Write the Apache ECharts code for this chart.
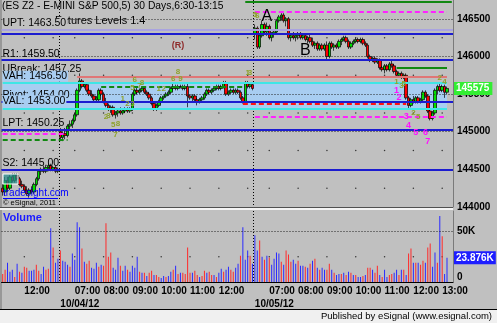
<!DOCTYPE html>
<html><head><meta charset="utf-8">
<script src="https://cdn.jsdelivr.net/npm/echarts@6/dist/echarts.min.js"></script>
<style>html,body{margin:0;padding:0;background:#c0c0c0;overflow:hidden}#c{width:497px;height:323px}</style>
</head><body><div id="c"></div>
<script>
// ---------------- DATA ----------------
const titleText = '(ES Z2 - E-MINI S&P 500,5) 30 Days,6:30-13:15';
const studyText = 'Futures Levels 1.4';
const dayLabels = ['10/03/12', '10/04/12', '10/05/12'];
const dayFirstBar = [57, 0, 0];          // first 5-min bar number shown for each day (session 06:30)
const sessionStartMin = 6 * 60 + 30;
const barMinutes = 5;

// [open, high, low, close]
const day1Bars = [
  [144250,144300,144150,144200],[144200,144400,144150,144350],[144350,144400,144200,144250],[144250,144425,144225,144400],
  [144400,144450,144325,144350],[144350,144450,144325,144425],[144425,144450,144350,144375],[144375,144400,144275,144300],
  [144300,144350,144250,144275],[144275,144300,144200,144225],[144225,144275,144150,144175],[144175,144250,144125,144225],
  [144225,144275,144175,144200],[144200,144325,144175,144300],[144300,144400,144275,144375],[144375,144500,144350,144475],
  [144475,144525,144425,144500],[144500,144550,144450,144475],[144475,144550,144450,144525],[144525,144575,144475,144550],
  [144550,144575,144475,144500],[144500,144550,144475,144525],[144525,144550,144450,144475],[144475,144525,144450,144500]
];
const day2Bars = [
  [145000,145050,144875,144925],[144925,145000,144875,144975],[144975,145050,144900,144950],[144950,145100,144925,145075],
  [145075,145150,145025,145100],[145100,145175,145050,145150],[145150,145250,145125,145225],[145225,145575,145200,145550],
  [145550,145775,145525,145675],[145675,145700,145575,145600],[145600,145650,145575,145625],[145625,145650,145525,145550],
  [145550,145575,145475,145500],[145500,145550,145450,145475],[145475,145500,145400,145425],[145425,145475,145400,145450],
  [145425,145575,145400,145550],[145550,145575,145475,145500],[145500,145525,145375,145400],[145400,145450,145325,145350],
  [145350,145375,145275,145300],[145300,145350,145250,145325],[145325,145350,145200,145225],[145225,145275,145175,145250],
  [145250,145300,145200,145275],[145275,145325,145225,145250],[145250,145300,145225,145275],[145275,145325,145250,145300],
  [145300,145325,145250,145275],[145275,145325,145250,145300],[145300,145525,145275,145500],[145500,145575,145475,145550],
  [145550,145600,145500,145525],[145525,145575,145500,145550],[145550,145600,145525,145575],[145575,145600,145500,145525],
  [145525,145550,145475,145500],[145500,145525,145425,145450],[145450,145475,145350,145375],[145375,145400,145275,145300],
  [145300,145375,145275,145350],[145350,145425,145325,145400],[145400,145475,145375,145450],[145450,145475,145425,145475],
  [145475,145525,145450,145500],[145500,145550,145475,145525],[145525,145600,145500,145575],[145575,145650,145550,145600],
  [145600,145625,145550,145575],[145575,145625,145550,145600],[145600,145625,145575,145600],[145600,145625,145550,145575],
  [145575,145625,145550,145600],[145600,145650,145325,145475],[145475,145500,145425,145450],[145450,145500,145400,145475],
  [145475,145500,145400,145425],[145425,145450,145350,145400],[145400,145450,145375,145425],[145425,145475,145400,145450],
  [145450,145525,145425,145500],[145500,145575,145475,145550],[145550,145575,145500,145525],[145525,145575,145500,145550],
  [145550,145600,145525,145575],[145575,145625,145550,145600],[145600,145625,145550,145575],[145575,145625,145550,145600],
  [145600,145675,145575,145650],[145650,145675,145475,145500],[145500,145550,145475,145525],[145525,145575,145500,145550],
  [145550,145575,145500,145525],[145525,145575,145500,145550],[145550,145575,145500,145525],[145525,145550,145425,145450],
  [145450,145475,145375,145400],[145400,145675,145375,145650],[145650,145675,145575,145600],[145600,145650,145575,145625],
  [145625,145650,145550,145575]
];
const day3Bars = [
  [146300,146425,146225,146375],[146375,146400,146100,146125],[146125,146300,146100,146275],[146275,146475,146250,146425],
  [146425,146450,146300,146325],[146325,146450,146275,146400],[146400,146425,146225,146250],[146250,146325,146200,146300],
  [146300,146350,146250,146325],[146325,146500,146300,146475],[146475,146550,146450,146525],[146525,146575,146475,146550],
  [146550,146575,146450,146475],[146475,146525,146400,146500],[146500,146525,146225,146250],[146250,146300,146200,146275],
  [146275,146325,146225,146250],[146250,146300,146200,146275],[146275,146325,146225,146300],[146300,146325,146225,146250],
  [146250,146300,146225,146275],[146275,146300,146200,146225],[146225,146275,146175,146250],[146250,146300,146175,146200],
  [146200,146250,146125,146150],[146150,146200,146100,146175],[146175,146200,146075,146100],[146100,146175,146075,146150],
  [146150,146175,146075,146100],[146100,146175,146075,146150],[146150,146200,145950,146000],[146000,146200,145975,146175],
  [146175,146200,146100,146125],[146125,146175,146075,146150],[146150,146175,146100,146125],[146125,146225,146100,146200],
  [146200,146250,146150,146225],[146225,146275,146200,146250],[146250,146275,146175,146200],[146200,146225,146100,146125],
  [146125,146200,146100,146175],[146175,146225,146150,146200],[146200,146250,146175,146225],[146225,146250,146175,146200],
  [146200,146250,146175,146225],[146225,146250,146150,146175],[146175,146200,146125,146150],[146150,146175,145975,146000],
  [146000,146025,145925,145950],[145950,146000,145925,145975],[145975,146000,145900,145925],[145925,145975,145900,145950],
  [145950,145975,145825,145850],[145850,145875,145800,145825],[145825,145900,145775,145875],[145875,145900,145800,145825],
  [145825,145925,145800,145900],[145900,145950,145850,145875],[145875,145900,145775,145800],[145800,145825,145725,145750],
  [145750,145800,145725,145775],[145775,145800,145700,145725],[145725,145775,145700,145750],[145750,145775,145425,145450],
  [145450,145475,145300,145350],[145350,145450,145325,145425],[145425,145475,145375,145400],[145400,145475,145375,145450],
  [145450,145475,145375,145400],[145400,145450,145375,145425],[145425,145550,145400,145525],[145525,145550,145450,145475],
  [145475,145500,145250,145275],[145275,145300,145150,145175],[145175,145275,145150,145250],[145250,145575,145225,145550],
  [145550,145625,145500,145600],[145600,145650,145525,145550],[145550,145625,145525,145600],[145600,145625,145450,145525],
  [145525,145600,145500,145575]
];

// volume in thousands, and bar colour flag (b = blue, r = red)
const day1Vol = [8,12,19,10,12,5,18,10,9,15,14,11,11,12,17,11,8,15,12,13,53,34,19,23];
const day1VolDir = 'rrbbbrbrbrrbbbrrbbrrbrbb';
const day2Vol = [31,21,20,17,15,28,22,59,54,33, 20,18,21,14,13,19,15,17,16,58, 25,29,14,12,24,16,11,16,12,10,
  16,14,25,10,9,9,6,9,11,7, 7,5,4,6,5,6,10,12,16,8, 9,9,8,34,9,9,11,7,5,6, 11,9,10,7,7,5,9,13,10,12,
  15,12,10,14,18,26,54,22,31,26, 18];
const day2VolDir = 'rbbbrbbbbr' + 'brrbbbrbrr' + 'rrbbbrbbrb' + 'bbbrbrbrrb' + 'rrbbrbbrbr' + 'brrrrbrrbr' + 'rbrrbrbbrb' + 'brrbbrbbbr' + 'b';
const day3Vol = [46,31,41,25,22,26,24,17,23,29, 28,20,17,31,27,20,22,18,21,16, 16,15,14,18,21,23,14,12,14,12,
  12,18,12,9,7,8,8,9,7,10, 9,7,7,5,5,6,7,14,14,12, 9,16,7,5,12,5,7,8,9,12, 7,12,12,7,28,33,19,19,19,17,
  21,19,34,38,15,29,19,65,45,8, 23.876];
const day3VolDir = 'bbrbrbrbbb' + 'brbrrrbbrb' + 'brbrbrbrbb' + 'rrbrbbrbrb' + 'rbrbbrbrrb' + 'rrbrbbrrbb' + 'rbrbrrbrbr' + 'rbrrbbrbrb' + 'b';

const hourTickLabels = ['10/03/12 12:00','10/04/12 07:00','10/04/12 08:00','10/04/12 09:00','10/04/12 10:00','10/04/12 11:00',
  '10/04/12 12:00','10/05/12 07:00','10/05/12 08:00','10/05/12 09:00','10/05/12 10:00','10/05/12 11:00','10/05/12 12:00','10/05/12 13:00'];
const priceTicks = [144000, 144500, 145000, 145500, 146000, 146500];
const priceMinorTicks = [144250, 144750, 145250, 145750, 146250];
const volumeTicks = [0, 50];
const volumeMinorTicks = [25];

// levels from the "Futures Levels" study (price x100)
const levelNames  = ['UPT', 'R1', 'UBreak', 'VAH', 'Pivot', 'VAL', 'LPT', 'S2'];
const levelValues = [146350, 145950, 145725, 145650, 145400, 145300, 145025, 144500];
const fullLineValues = [146350, 146300, 145950, 145400, 145025, 144500];
const fullLineKind   = ['lavender', 'blue', 'blue', 'blue', 'blue', 'blue'];
const segValues = [146725, 146600, 145725, 145650, 145300, 145600, 145850, 145375, 145200, 144975, 144900];
const segFrom   = [101, 105, 31, 0, 0, 41, 164, 100, 105, 0, 0];
const segTo     = [187, 185, 185, 185, 185, 101, 185, 168, 185, 26, 27];
const segKind   = ['greenSolid','magentaDash','salmon','cyan','cyan','greenDash','greenSolid','redDash','magentaDash','magentaDash','greenDash'];
const valueAreaHigh = 145650, valueAreaLow = 145300, valueAreaFrom = 0, valueAreaTo = 185;

// chart annotations [bar index, price, text]
const waveLabels = [[110, 146524, 'A'], [126, 146072, 'B']];
const reversalLabels = [[73, 146139, '(R)']];
const countLabels = [[164,145554,'1'],[165,145461,'2'],[168,145196,'3'],[169,145089,'4'],[172,144983,'5'],[176,144983,'6'],[177,144864,'7']];
const tdLabels = [[73,145793,'8'],[71,145700,'6'],[74,145700,'9'],[55,145687,'6'],[58,145647,'8'],[54,145581,'5'],[57,145607,'7'],
  [65,145568,'1'],[67,145568,'2'],[50,145435,'1'],[52,145368,'2'],[54,145368,'3'],[43,145196,'2'],[44,145209,'3'],[46,145089,'5'],
  [48,145103,'8'],[47,144957,'7'],[102,145780,'1'],[103,145780,'3'],[105,146551,'5'],[106,146537,'6'],[164,145661,'1'],
  [166,145607,'3'],[167,145634,'5'],[171,145249,'2'],[173,145196,'5'],[182,145714,'2'],[184,145661,'4']];

// ---------------- BUILD ----------------
const FONT = '"Liberation Sans", Arial, sans-serif';
const VOL_BLUE = '#2a2aff', VOL_RED = '#ff2a2a';
const categories = [], candles = [], volumes = [], dayStarts = [];
const daysBars = [day1Bars, day2Bars, day3Bars], daysVol = [day1Vol, day2Vol, day3Vol], daysDir = [day1VolDir, day2VolDir, day3VolDir];
daysBars.forEach((bars, d) => {
  dayStarts.push(categories.length);
  bars.forEach((b, j) => {
    const m = sessionStartMin + (dayFirstBar[d] + j) * barMinutes;
    const t = String(Math.floor(m / 60)).padStart(2, '0') + ':' + String(m % 60).padStart(2, '0');
    categories.push(dayLabels[d] + ' ' + t);
    candles.push([b[0], b[3], b[2], b[1]]);
    volumes.push({ value: daysVol[d][j], itemStyle: { color: daysDir[d][j] === 'b' ? VOL_BLUE : VOL_RED } });
  });
});
categories.push('pad1', 'pad2');
const dayLineIdx = dayStarts.slice(1);
const hourIdx = [];
categories.forEach((c, i) => { if (/:00$/.test(c)) hourIdx.push(i); });
const priceDots = [], volDots = [];
hourIdx.forEach(i => { priceMinorTicks.forEach(p => priceDots.push([i, p])); volumeMinorTicks.forEach(v => volDots.push([i, v])); });

const styles = {
  lavender: { color: '#a9a3e0', width: 2, type: 'solid' },
  blue: { color: '#1c1cd0', width: 2, type: 'solid' },
  greenSolid: { color: '#118811', width: 2, type: 'solid' },
  magentaDash: { color: '#ff22ff', width: 2, type: [5, 3] },
  salmon: { color: '#e07676', width: 2, type: 'solid' },
  cyan: { color: '#3fe6e6', width: 2, type: 'solid' },
  greenDash: { color: '#118811', width: 2, type: [5, 3] },
  redDash: { color: '#ff1111', width: 2, type: [5, 3] }
};
const HIDDEN_LINE = { color: 'rgba(0,0,0,0)', width: 0.01, type: 'solid' };
const VA_FILL = '#a8cdf1';
const labelBg = { UPT: '#c0c0c0', VAH: VA_FILL, Pivot: VA_FILL, VAL: VA_FILL };
const labelGap = { UBreak: 3, VAL: 3 };

const levelLines = [];
priceTicks.slice(1).forEach(v => levelLines.push({ yAxis: v, lineStyle: { color: '#222', width: 1, type: [1, 2] }, label: { show: false } }));
fullLineValues.forEach((v, i) => levelLines.push({ yAxis: v, lineStyle: styles[fullLineKind[i]], label: { show: false } }));
segValues.forEach((v, i) => levelLines.push([{ coord: [segFrom[i], v], lineStyle: styles[segKind[i]], label: { show: false } }, { coord: [segTo[i], v] }]));
levelNames.forEach((n, i) => levelLines.push({
  yAxis: levelValues[i], lineStyle: HIDDEN_LINE,
  label: { show: true, position: 'insideStartTop', distance: [1, labelGap[n] || 1],
    formatter: n + ': ' + (levelValues[i] / 100).toFixed(2), color: '#000', fontSize: 10.5, fontFamily: FONT,
    lineHeight: 11, padding: [0, 1, 0, 0], backgroundColor: labelBg[n] || 'transparent' }
}));

function textPoints(list, style) {
  return list.map(a => ({ coord: [a[0], a[1]], value: a[2], label: Object.assign({ show: true, position: 'inside', formatter: a[2], fontFamily: FONT }, style) }));
}
const annotationPoints = [].concat(
  textPoints(tdLabels, { color: '#8ea22c', fontSize: 8, fontWeight: 'bold' }),
  textPoints(countLabels, { color: '#ff10ff', fontSize: 9, fontWeight: 'bold' }),
  textPoints(reversalLabels, { color: '#8e2a2a', fontSize: 9, fontWeight: 'bold' }),
  textPoints(waveLabels, { color: '#000', fontSize: 16 })
);

const lastClose = candles[candles.length - 1][1];
const lastVol = volumes[volumes.length - 1].value;

const chart = echarts.init(document.getElementById('c'), null, { renderer: 'canvas', width: 497, height: 323 });
const axisLblBold = { color: '#000', fontSize: 10, fontWeight: 'bold', fontFamily: FONT };
chart.setOption({
  animation: false,
  backgroundColor: '#c0c0c0',
  textStyle: { fontFamily: FONT },
  grid: [
    { left: 1.5, right: 44, top: 0, height: 207 },
    { left: 1.5, right: 44, top: 211, height: 71 }
  ],
  xAxis: [
    { type: 'category', gridIndex: 0, data: categories, axisLine: { show: false }, axisTick: { show: false }, axisLabel: { show: false },
      splitLine: { show: true, interval: (i) => dayLineIdx.includes(i), lineStyle: { color: '#000', width: 1, type: [1, 2] } } },
    { type: 'category', gridIndex: 1, data: categories, axisLine: { show: true, lineStyle: { color: '#000', width: 1 } }, axisTick: { show: false },
      axisLabel: Object.assign({ interval: (i, v) => hourTickLabels.includes(v), formatter: v => v.split(' ')[1], align: 'left', margin: 4 }, axisLblBold),
      splitLine: { show: true, interval: (i) => dayLineIdx.includes(i), lineStyle: { color: '#000', width: 1, type: [1, 2] } } },
    { type: 'category', gridIndex: 1, data: categories, position: 'bottom', offset: 13, axisLine: { show: false }, axisTick: { show: false },
      axisLabel: Object.assign({ interval: (i) => dayLineIdx.includes(i), formatter: v => v.split(' ')[0], align: 'left', margin: 4 }, axisLblBold),
      splitLine: { show: false } }
  ],
  yAxis: [
    { type: 'value', gridIndex: 0, position: 'right', min: priceTicks[0], max: 146750, interval: 500, splitLine: { show: false },
      axisLine: { show: true, lineStyle: { color: '#7a7a7a' } }, axisTick: { show: false },
      axisLabel: Object.assign({ margin: 4, formatter: v => priceTicks.includes(v) ? String(v) : '' }, axisLblBold) },
    { type: 'value', gridIndex: 1, position: 'right', min: volumeTicks[0], max: 70, interval: 50, splitLine: { show: false },
      axisLine: { show: true, lineStyle: { color: '#7a7a7a' } }, axisTick: { show: false },
      axisLabel: Object.assign({ margin: 4, verticalAlignMinLabel: 'bottom', formatter: v => v === 0 ? '0' : (volumeTicks.includes(v) ? v + 'K' : '') }, axisLblBold) }
  ],
  series: [
    { name: 'dots', type: 'scatter', xAxisIndex: 0, yAxisIndex: 0, data: priceDots, symbolSize: 1.5, itemStyle: { color: '#111' }, silent: true, z: 1 },
    { name: 'levels', type: 'line', xAxisIndex: 0, yAxisIndex: 0, data: [], silent: true, z: 1,
      markArea: { silent: true, itemStyle: { color: VA_FILL, opacity: 1 }, data: [[{ coord: [valueAreaFrom, valueAreaHigh] }, { coord: [valueAreaTo, valueAreaLow] }]] },
      markLine: { silent: true, symbol: ['none', 'none'], animation: false, data: levelLines } },
    { name: 'ES Z2', type: 'candlestick', xAxisIndex: 0, yAxisIndex: 0, data: candles, barWidth: 3, z: 3,
      itemStyle: { color: '#00e000', color0: '#ff0000', borderColor: '#000', borderColor0: '#000', borderWidth: 0.7 },
      markLine: { silent: true, symbol: ['none', 'none'], data: [{ yAxis: lastClose, lineStyle: HIDDEN_LINE,
        label: { show: true, position: 'end', distance: 1, formatter: String(lastClose), color: '#fff', backgroundColor: '#33ee33',
          fontSize: 10, fontWeight: 'bold', fontFamily: FONT, padding: [2, 3, 1, 2] } }] } },
    { name: 'notes', type: 'scatter', xAxisIndex: 0, yAxisIndex: 0, data: [], silent: true, z: 4,
      markPoint: { silent: true, symbol: 'rect', symbolSize: 1, itemStyle: { color: 'rgba(0,0,0,0)' }, data: annotationPoints } },
    { name: 'vdots', type: 'scatter', xAxisIndex: 1, yAxisIndex: 1, data: volDots, symbolSize: 1.5, itemStyle: { color: '#111' }, silent: true, z: 1 },
    { name: 'Volume', type: 'bar', xAxisIndex: 1, yAxisIndex: 1, data: volumes, barWidth: 1, z: 3,
      markLine: { silent: true, symbol: ['none', 'none'], data: [
        { yAxis: volumeTicks[1], lineStyle: { color: '#222', width: 1, type: [1, 2] }, label: { show: false } },
        { yAxis: lastVol, lineStyle: HIDDEN_LINE, label: { show: true, position: 'end', distance: 1, formatter: lastVol.toFixed(3) + 'K',
          color: '#fff', backgroundColor: '#1d1dff', fontSize: 10, fontWeight: 'bold', fontFamily: FONT, padding: [2, 2, 1, 2] } }] } }
  ],
  graphic: [
    { type: 'rect', shape: { x: 0, y: 309, width: 497, height: 14 }, style: { fill: '#f0f0f0' }, z: 0 },
    { type: 'line', shape: { x1: 0, y1: 309.5, x2: 497, y2: 309.5 }, style: { stroke: '#000', lineWidth: 1 }, z: 0 },
    { type: 'line', shape: { x1: 1, y1: 0, x2: 1, y2: 309 }, style: { stroke: '#707070', lineWidth: 1 }, z: 0 },
    { type: 'rect', shape: { x: 0, y: 207, width: 453, height: 1 }, style: { fill: '#505050' }, z: 5 },
    { type: 'rect', shape: { x: 0, y: 208, width: 453, height: 2 }, style: { fill: '#f4f4f4' }, z: 5 },
    { type: 'text', x: 492, y: 311, style: { text: 'Published by eSignal (www.esignal.com)', fill: '#000', font: '9.5px ' + FONT, textAlign: 'right' }, z: 5 },
    { type: 'text', x: 2, y: 1, style: { text: titleText, fill: '#000', font: '10.3px ' + FONT }, z: 0 },
    { type: 'text', x: 55, y: 15, style: { text: studyText, fill: '#000', font: '11px ' + FONT }, z: 0 },
    { type: 'text', x: 3, y: 212, style: { text: 'Volume', fill: '#1a1aff', font: 'bold 11px ' + FONT }, z: 5 },
    { type: 'rect', shape: { x: 3, y: 174, width: 15, height: 10 }, style: { fill: 'rgba(40,140,140,0.75)', stroke: '#fff', lineWidth: 1 }, z: 100 },
    { type: 'text', x: 3, y: 188, style: { text: 'tradesight.com', fill: '#0000ff', font: '10px ' + FONT }, z: 100 },
    { type: 'line', shape: { x1: 3, y1: 198.5, x2: 58, y2: 198.5 }, style: { stroke: '#0000ff', lineWidth: 1 }, z: 100 },
    { type: 'text', x: 3, y: 199, style: { text: '\u00a9 eSignal, 2011', fill: '#000', font: '7.5px ' + FONT }, z: 100 }
  ]
});
</script>
</body></html>
